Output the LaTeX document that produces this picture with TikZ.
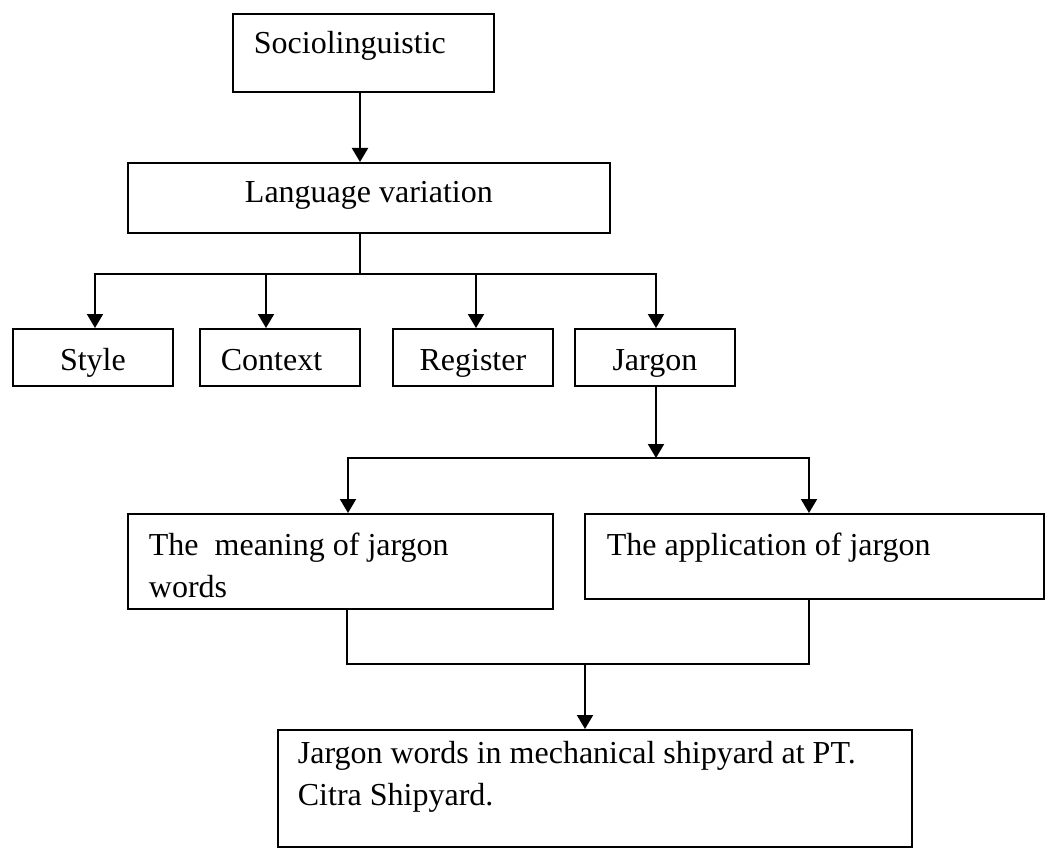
\documentclass[tikz,border=0pt]{standalone}
\usepackage{fontspec}
\setmainfont{Liberation Serif}
\usetikzlibrary{arrows.meta}
\begin{document}
\begin{tikzpicture}[x=1pt,y=-1pt,
  box/.style={draw, line width=1.8pt, inner ysep=0pt, inner xsep=0pt, anchor=north west,
              font=\fontsize{32}{42}\selectfont},
  lbox/.style={box, align=flush left},
  conn/.style={line width=2pt},
  thinconn/.style={line width=1.6pt},
  arr/.style={conn, -{Triangle[width=16pt,length=14pt]}}]
\useasboundingbox (0,0) rectangle (1045,848);
% boxes
\node[lbox, inner xsep=21pt, text width=219pt, text height=40pt, text depth=38pt] (socio) at (232,13) {Sociolinguistic};
\node[box, minimum width=482pt, text height=40pt, text depth=30pt] (lv) at (127,162) {Language variation};
\node[box, minimum width=160pt, text height=42pt, text depth=15pt] (style) at (12,328) {Style};
\node[lbox, inner xsep=21pt, text width=118pt, text height=42pt, text depth=15pt] (context) at (199,328) {Context};
\node[box, minimum width=160pt, text height=42pt, text depth=15pt] (register) at (392,328) {Register};
\node[box, minimum width=160pt, text height=42pt, text depth=15pt] (jargon) at (574,328) {Jargon};
\node[lbox, inner xsep=21pt, text width=383pt, text height=42pt, text depth=53pt] (meaning) at (127,513) {The\ \ meaning of jargon\\words};
\node[lbox, inner xsep=22pt, text width=415pt, text height=42pt, text depth=43pt] (app) at (584,513) {The application of jargon};
\node[lbox, inner xsep=20pt, text width=594pt, text height=34pt, text depth=83pt] (result) at (277,729) {Jargon words in mechanical shipyard at PT.\\Citra Shipyard.};
% junction points
\coordinate (b1) at (360,274);
\coordinate (bl) at (95,274);
\coordinate (c2) at (266,274);
\coordinate (c3) at (476,274);
\coordinate (br) at (656,274);
\coordinate (j2) at (656,458);
\coordinate (ml) at (348,458);
\coordinate (mr) at (809,458);
\coordinate (ll) at (347,664);
\coordinate (lr) at (809,664);
\coordinate (lm) at (585,664);
% connectors
\draw[arr] (socio.south -| b1) -- (lv.north -| b1);
\draw[conn] (lv.south -| b1) -- (b1);
\draw[arr] (b1) -- (bl) -- (style.north -| bl);
\draw[arr] (b1) -- (br) -- (jargon.north -| br);
\draw[arr] (c2) -- (context.north -| c2);
\draw[arr] (c3) -- (register.north -| c3);
\draw[arr] (jargon.south -| j2) -- (j2);
\draw[arr] (j2) -- (ml) -- (meaning.north -| ml);
\draw[arr] (j2) -- (mr) -- (app.north -| mr);
\draw[thinconn] (meaning.south -| ll) -- (ll) -- (lr) -- (app.south -| lr);
\draw[arr] (lm) -- (result.north -| lm);
\end{tikzpicture}
\end{document}
